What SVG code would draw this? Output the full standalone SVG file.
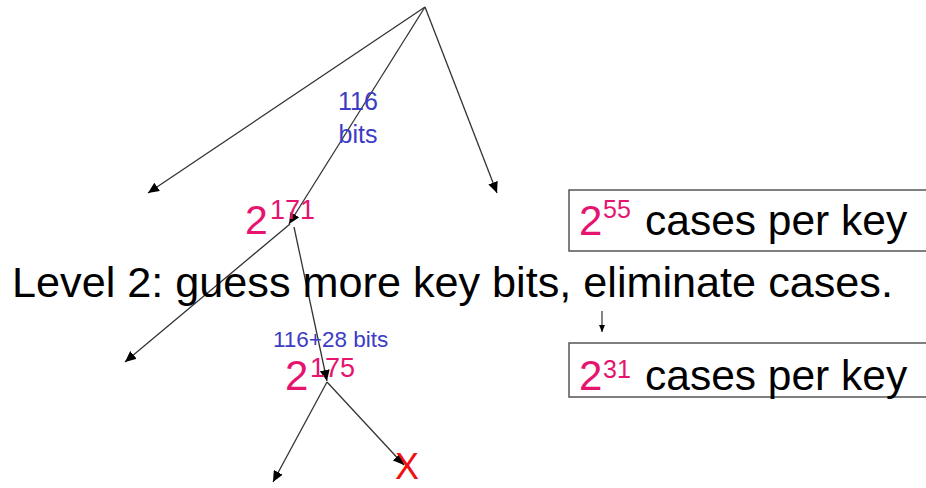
<svg xmlns="http://www.w3.org/2000/svg" width="926" height="488" viewBox="0 0 926 488">
<style>
text{font-family:"Liberation Sans",Arial,sans-serif}
.edge{stroke:#333;stroke-width:1.3;fill:none;marker-end:url(#ah)}
.mag{fill:#e6136f}
.blue{fill:#3c3cc4}
.blk{fill:#000}
.box{fill:#fff;stroke:#555;stroke-width:1.5}
</style>
<defs>
<marker id="ah" markerUnits="userSpaceOnUse" markerWidth="12" markerHeight="10" refX="11" refY="5" orient="auto">
<path d="M0,0 L11,5 L0,10 Z" fill="#000"/>
</marker>
<marker id="ahs" markerUnits="userSpaceOnUse" markerWidth="8" markerHeight="6" refX="7" refY="3" orient="auto">
<path d="M0,0 L7,3 L0,6 Z" fill="#000"/>
</marker>
</defs>
<rect width="926" height="488" fill="#fff"/>
<g id="connectors">
<line class="edge" x1="425" y1="7" x2="148" y2="193"/>
<line class="edge" x1="425" y1="7" x2="289" y2="224"/>
<line class="edge" x1="425" y1="7" x2="497" y2="193"/>
<line class="edge" x1="290" y1="224" x2="125" y2="362"/>
<line class="edge" x1="294" y1="227" x2="327" y2="381"/>
<line class="edge" x1="327" y1="382" x2="273" y2="482"/>
<line class="edge" x1="327" y1="382" x2="404" y2="465"/>
<line x1="602" y1="311" x2="602" y2="332" stroke="#333" stroke-width="1.2" marker-end="url(#ahs)"/>
</g>
<g id="label-116">
<text class="blue" x="358" y="110" font-size="25" text-anchor="middle">116</text>
<text class="blue" x="358" y="143" font-size="25" text-anchor="middle">bits</text>
</g>
<g id="node-2-171">
<text class="mag" x="245" y="234" font-size="41">2</text>
<text class="mag" x="270" y="219" font-size="27">171</text>
</g>
<g id="level2">
<text class="blk" x="12" y="297" font-size="43.2">Level 2: guess more key bits, eliminate cases.</text>
</g>
<g id="label-116-28">
<text class="blue" x="273" y="347" font-size="22.5">116+28 bits</text>
</g>
<g id="node-2-175">
<text class="mag" x="285" y="390" font-size="42">2</text>
<text class="mag" x="310" y="377" font-size="27">175</text>
</g>
<g id="x-mark">
<text x="407" y="479" font-size="36" text-anchor="middle" fill="#f01010">X</text>
</g>
<g id="box-55">
<rect class="box" x="569" y="190" width="380" height="61"/>
<text class="mag" x="579" y="235" font-size="42">2</text>
<text class="mag" x="603" y="218" font-size="25">55</text>
<text class="blk" x="645" y="235" font-size="42.5">cases per key</text>
</g>
<g id="box-31">
<rect class="box" x="569" y="343" width="380" height="54"/>
<text class="mag" x="579" y="390" font-size="42">2</text>
<text class="mag" x="603" y="378" font-size="25">31</text>
<text class="blk" x="645" y="390" font-size="42.5">cases per key</text>
</g>
</svg>
